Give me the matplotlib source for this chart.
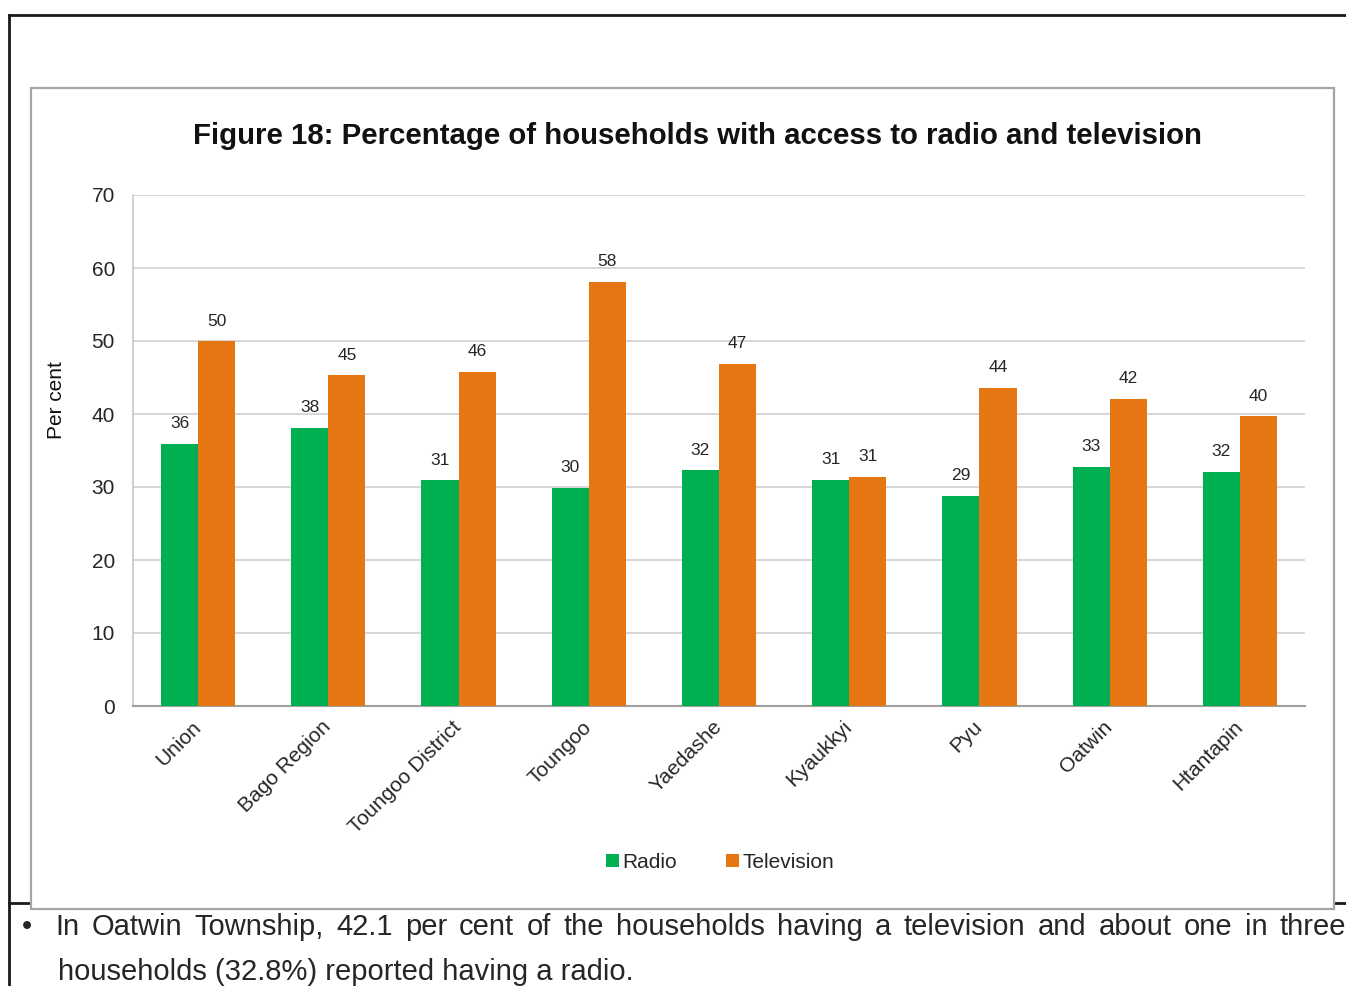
import matplotlib
matplotlib.use("Agg")
import matplotlib.pyplot as plt
from matplotlib.lines import Line2D
from matplotlib.patches import Rectangle
import numpy as np

plt.rcParams['font.family'] = ['Liberation Sans', 'DejaVu Sans']

# Datos: porcentaje de hogares con radio y televisión
areas = ['Union', 'Bago Region', 'Toungoo District', 'Toungoo', 'Yaedashe',
         'Kyaukkyi', 'Pyu', 'Oatwin', 'Htantapin']
radio = [35.9, 38.1, 30.9, 29.9, 32.3, 31.0, 28.8, 32.8, 32.1]
television = [50.0, 45.3, 45.8, 58.1, 46.9, 31.4, 43.6, 42.1, 39.7]
yticks = [0, 10, 20, 30, 40, 50, 60, 70]

title = 'Figure 18: Percentage of households with access to radio and television'
bullet_lines = [
    'In Oatwin Township, 42.1 per cent of the households having a television and about one in three',
    'households (32.8%) reported having a radio.',
]

GREEN = '#00B050'
ORANGE = '#E67612'
TEXT = '#262626'

W, H = 1346, 986
fig = plt.figure(figsize=(W / 100, H / 100), dpi=100)


def fx(x):
    return x / W


def fy(y):
    return 1 - y / H


# Bordes de la página
fig.add_artist(Line2D([fx(9), fx(1346)], [fy(15), fy(15)], color='#1a1a1a', lw=2, zorder=-3))
fig.add_artist(Line2D([fx(9), fx(9)], [fy(15), fy(986)], color='#1a1a1a', lw=2, zorder=-3))
fig.add_artist(Line2D([fx(9), fx(1346)], [fy(903), fy(903)], color='#1a1a1a', lw=2, zorder=-3))

# Marco del gráfico
fig.add_artist(Rectangle((fx(31), fy(909)), fx(1334) - fx(31), fy(88) - fy(909),
                         transform=fig.transFigure, facecolor='white',
                         edgecolor='#a5a5a5', lw=1.6, zorder=-1))

ax = fig.add_axes([fx(133), fy(706), fx(1305) - fx(133), fy(195) - fy(706)])
ax.set_zorder(2)
ax.patch.set_alpha(0)

x = np.arange(len(areas))
w = 0.285
b1 = ax.bar(x - w / 2, radio, w, color=GREEN, label='Radio', zorder=3)
b2 = ax.bar(x + w / 2, television, w, color=ORANGE, label='Television', zorder=3)

for bars in (b1, b2):
    ax.bar_label(bars, fmt='%.0f', padding=9, fontsize=12.5, color=TEXT)

ax.set_xlim(-0.5, len(areas) - 0.5)
ax.set_ylim(0, 70)
ax.set_yticks(yticks)
ax.tick_params(axis='y', length=0, pad=13, labelsize=15, labelcolor=TEXT)
ax.tick_params(axis='x', length=0, pad=13)
ax.set_xticks(x)
ax.set_xticklabels(areas, rotation=45, ha='right', va='center',
                   rotation_mode='anchor', fontsize=15, color=TEXT)
ax.yaxis.grid(True, color='#d0d0d0', lw=1.2, zorder=0)
ax.set_axisbelow(True)
for s in ('top', 'right'):
    ax.spines[s].set_visible(False)
ax.spines['left'].set_color('#c8c8c8')
ax.spines['bottom'].set_color('#a0a0a0')
ax.spines['left'].set_linewidth(1.2)
ax.spines['bottom'].set_linewidth(1.5)

fig.text(fx(697), fy(136), title, ha='center', va='center', fontsize=21.2,
         fontweight='bold', color='#111111')
fig.text(fx(57), fy(400), 'Per cent', rotation=90, ha='center', va='center',
         fontsize=15, color='#111111')

fig.legend(handles=[b1, b2], loc='center', bbox_to_anchor=(fx(720), fy(862)),
           ncol=2, frameon=False, fontsize=15, handlelength=0.6, handleheight=0.6,
           handletextpad=0.15, columnspacing=2.4, labelcolor=TEXT)

# Texto justificado bajo el gráfico
fig.text(fx(22), fy(935), '•', ha='left', va='baseline', fontsize=21, color=TEXT)
renderer = fig.canvas.get_renderer()
words = bullet_lines[0].split(' ')
items = [fig.text(0, fy(935), wd, ha='left', va='baseline', fontsize=21, color=TEXT)
         for wd in words]
widths = [t.get_window_extent(renderer).width for t in items]
left, right = 55, 1346
gap = (right - left - sum(widths)) / (len(words) - 1)
pos = left
for t, wdt in zip(items, widths):
    t.set_x(fx(pos))
    pos += wdt + gap
fig.text(fx(58), fy(980), bullet_lines[1], ha='left', va='baseline', fontsize=21, color=TEXT)

fig.savefig('out.png', dpi=100)
